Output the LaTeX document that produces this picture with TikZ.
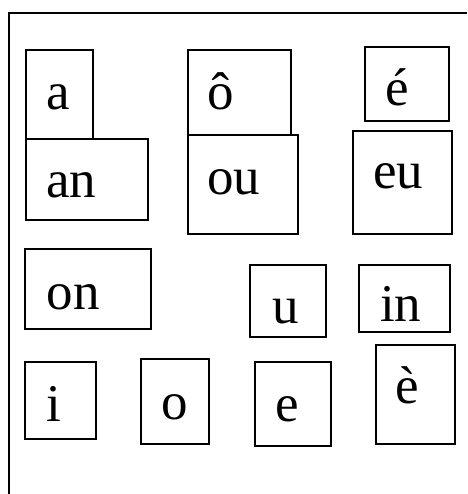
\documentclass[tikz,border=0pt]{standalone}
\usepackage{fontspec}
\setmainfont{Liberation Serif}
\begin{document}
\begin{tikzpicture}[x=1pt,y=-1pt,
  box/.style={draw, line width=1.9pt, inner sep=0pt, outer sep=0pt},
  lbl/.style={anchor=base west, inner sep=0pt, font=\fontsize{53}{60}\selectfont},
  frame/.style={line width=1.9pt}]
\useasboundingbox (0,0) rectangle (467,494);
\coordinate (fb) at (9,494);
\coordinate (ftl) at (9,13);
\coordinate (fr) at (467,13);
\draw[frame] (fb) -- (ftl) -- (fr);
% boxes
\node[box, minimum width=67pt, minimum height=89pt] (a) at (59.5,94.5) {};
\node[box, minimum width=122pt, minimum height=81pt] (an) at (87,179.5) {};
\node[box, minimum width=103pt, minimum height=85pt] (ocirc) at (239.5,92.5) {};
\node[box, minimum width=110pt, minimum height=99pt] (ou) at (243,184.5) {};
\node[box, minimum width=84pt, minimum height=74pt] (eacute) at (407,84) {};
\node[box, minimum width=99pt, minimum height=103pt] (eu) at (402.5,182.5) {};
\node[box, minimum width=126pt, minimum height=80pt] (on) at (88,289) {};
\node[box, minimum width=71pt, minimum height=77pt] (i) at (60.5,400.5) {};
\node[box, minimum width=68pt, minimum height=85pt] (o) at (175,401.5) {};
\node[box, minimum width=76pt, minimum height=72pt] (u) at (288,301) {};
\node[box, minimum width=91pt, minimum height=67pt] (in) at (404.5,298.5) {};
\node[box, minimum width=76pt, minimum height=84pt] (e) at (293,404) {};
\node[box, minimum width=79pt, minimum height=99pt] (egrave) at (415.5,394.5) {};
% labels
\node[lbl] (ta) at (46,110) {a};
\node[lbl] (tan) at (46,197.5) {an};
\node[lbl] (tocirc) at (207,110) {ô};
\node[lbl] (tou) at (207,194.5) {ou};
\node[lbl] (teacute) at (385.5,106) {é};
\node[lbl] (teu) at (373,189) {eu};
\node[lbl] (ton) at (46.5,309) {on};
\node[lbl] (ti) at (46,421.5) {i};
\node[lbl] (to) at (161.5,419.5) {o};
\node[lbl] (tu) at (272,323.5) {u};
\node[lbl] (tin) at (380,321.5) {in};
\node[lbl] (te) at (275,421.5) {e};
\node[lbl] (tegrave) at (395.5,403.5) {è};
\end{tikzpicture}
\end{document}
